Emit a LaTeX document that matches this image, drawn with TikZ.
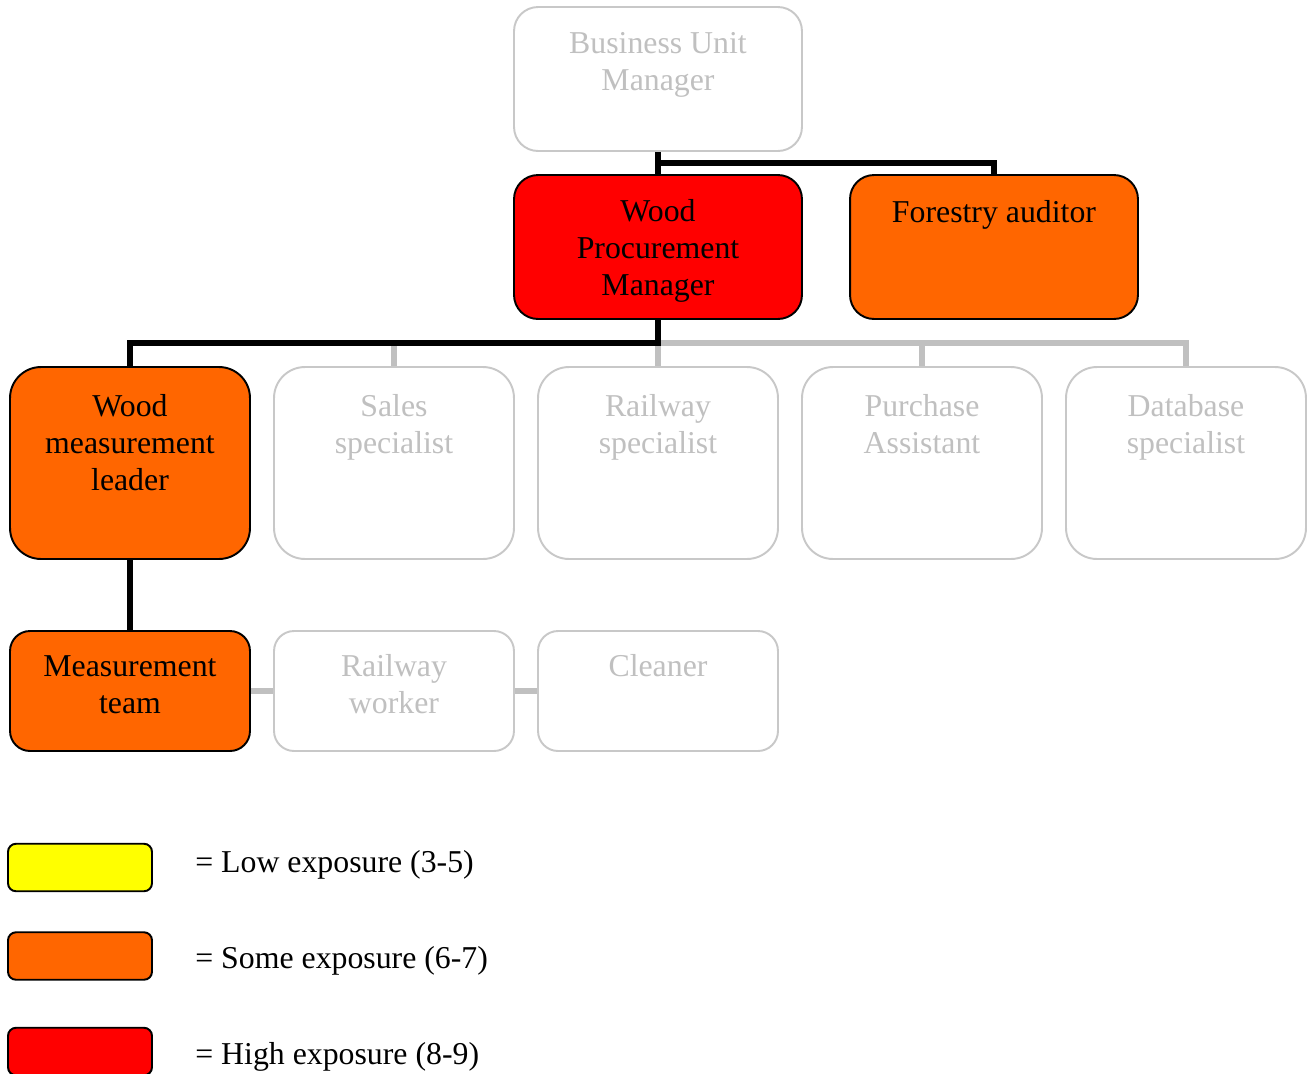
\documentclass[tikz,border=0pt]{standalone}
\usepackage{fontspec}
\setmainfont{Liberation Serif}
\usetikzlibrary{calc}
\definecolor{hiRed}{RGB}{255,0,0}
\definecolor{midOrange}{RGB}{255,102,0}
\definecolor{lowYellow}{RGB}{255,255,0}
\definecolor{paleLine}{RGB}{192,192,192}
\definecolor{paleText}{RGB}{192,192,192}
\definecolor{paleEdge}{RGB}{200,200,200}
\tikzset{
  x=0.02cm, y=-0.02cm,
  unit/.style={rectangle, inner sep=0pt, line width=1.1pt},
  topbox/.style={unit, minimum width=5.76cm, minimum height=2.88cm, rounded corners=0.48cm},
  midbox/.style={unit, minimum width=4.8cm, minimum height=3.84cm, rounded corners=0.62cm},
  lowbox/.style={unit, minimum width=4.8cm, minimum height=2.4cm, rounded corners=0.4cm},
  keybox/.style={unit, minimum width=2.88cm, minimum height=0.95cm, rounded corners=0.16cm, draw=black},
  hot/.style={draw=black, fill=hiRed},
  warm/.style={draw=black, fill=midOrange},
  pale/.style={draw=paleEdge, fill=white},
  label/.style={inner sep=0pt, align=center, anchor=north, font=\fontsize{18.1}{21}\selectfont},
  palelabel/.style={label, text=paleText},
  keytext/.style={inner sep=0pt, anchor=base west, font=\fontsize{18.1}{21}\selectfont},
  strong/.style={draw=black, line width=3.1pt},
  faint/.style={draw=paleLine, line width=3.1pt},
}
\begin{document}
\begin{tikzpicture}
\useasboundingbox (0,0) rectangle (1313,1073);

% boxes
\node[topbox, pale] (bum) at (658,79) {};
\node[topbox, hot]  (wpm) at (658,247) {};
\node[topbox, warm] (fa)  at (994,247) {};

\node[midbox, warm] (wml) at (130,463) {};
\node[midbox, pale] (ss)  at (394,463) {};
\node[midbox, pale] (rs)  at (658,463) {};
\node[midbox, pale] (pa)  at (922,463) {};
\node[midbox, pale] (db)  at (1186,463) {};

\node[lowbox, warm] (mt) at (130,691) {};
\node[lowbox, pale] (rw) at (394,691) {};
\node[lowbox, pale] (cl) at (658,691) {};

% labels, set from the top of each box
\node[palelabel] (bum-t) at ($(bum.north)+(0,21)$) {\strut Business Unit\\Manager};
\node[label] (wpm-t) at ($(wpm.north)+(0,21)$) {\strut Wood\\Procurement\\Manager};
\node[label] (fa-t)  at ($(fa.north)+(0,22)$) {\strut Forestry auditor};
\node[label] (wml-t) at ($(wml.north)+(0,24)$) {\strut Wood\\measurement\\leader};
\node[palelabel] (ss-t) at ($(ss.north)+(0,24)$) {\strut Sales\\specialist};
\node[palelabel] (rs-t) at ($(rs.north)+(0,24)$) {\strut Railway\\specialist};
\node[palelabel] (pa-t) at ($(pa.north)+(0,24)$) {\strut Purchase\\Assistant};
\node[palelabel] (db-t) at ($(db.north)+(0,24)$) {\strut Database\\specialist};
\node[label] (mt-t) at ($(mt.north)+(0,20)$) {\strut Measurement\\team};
\node[palelabel] (rw-t) at ($(rw.north)+(0,20)$) {\strut Railway\\worker};
\node[palelabel] (cl-t) at ($(cl.north)+(0,20)$) {\strut Cleaner};

% connectors
\coordinate (upper) at ($(bum.south)!0.5!(wpm.north)$);
\coordinate (bus) at ($(wpm.south)!0.5!(rs.north)$);

\draw[faint] (bus) -| (db.north);
\draw[faint] (bus) -- (rs.north);
\draw[faint] (bus -| pa.north) -- (pa.north);
\draw[faint] (bus -| ss.north) -- (ss.north);
\draw[faint] (mt.east) -- (rw.west);
\draw[faint] (rw.east) -- (cl.west);

\draw[strong] (bum.south) -- (wpm.north);
\draw[strong] (upper) -| (fa.north);
\draw[strong] (wpm.south) -- (bus) -| (wml.north);
\draw[strong] (wml.south) -- (mt.north);

% legend
\node[keybox, fill=lowYellow]  (k1) at (80,867.5) {};
\node[keybox, fill=midOrange] (k2) at (80,956) {};
\node[keybox, fill=hiRed]     (k3) at (80,1051.5) {};
\node[keytext] (k1-t) at (195,872) {= Low exposure (3-5)};
\node[keytext] (k2-t) at (195,968) {= Some exposure (6-7)};
\node[keytext] (k3-t) at (195,1064) {= High exposure (8-9)};
\end{tikzpicture}
\end{document}
